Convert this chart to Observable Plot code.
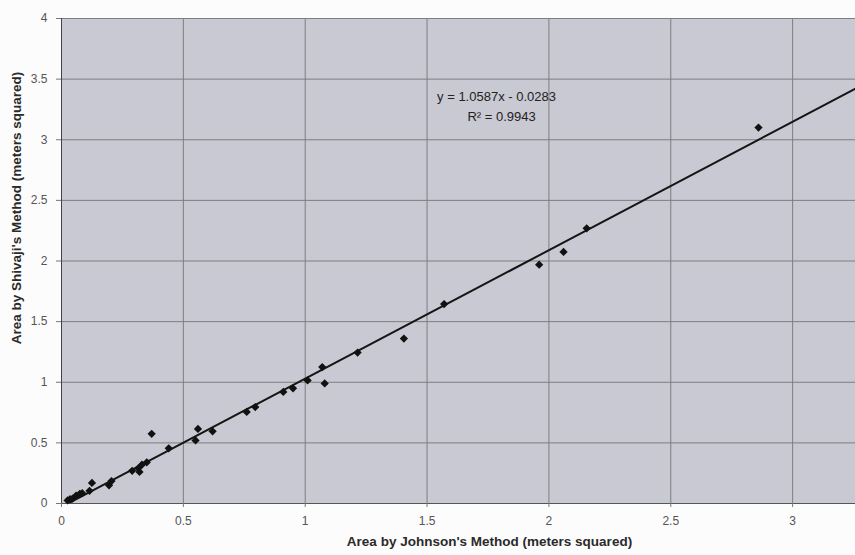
<!DOCTYPE html>
<html>
<head>
<meta charset="utf-8">
<script src="https://cdn.jsdelivr.net/npm/d3@7"></script>
<script src="https://cdn.jsdelivr.net/npm/@observablehq/plot@0.6"></script>
<style>
  html, body { margin: 0; padding: 0; background: #fcfcfd; }
  #chart svg { display: block; }
</style>
</head>
<body>
<div id="chart"></div>
<script>
// Area by Johnson's Method (x) vs Area by Shivaji's Method (y), meters squared
const johnson = [0.025, 0.035, 0.045, 0.06, 0.075, 0.085, 0.115, 0.125, 0.195, 0.205,
  0.29, 0.315, 0.32, 0.33, 0.35, 0.37, 0.44, 0.55, 0.56, 0.62,
  0.76, 0.795, 0.91, 0.95, 1.01, 1.07, 1.08, 1.215, 1.405, 1.57,
  1.96, 2.06, 2.155, 2.86];
const shivaji = [0.025, 0.035, 0.04, 0.065, 0.08, 0.085, 0.105, 0.17, 0.15, 0.185,
  0.27, 0.29, 0.26, 0.32, 0.34, 0.575, 0.455, 0.52, 0.615, 0.595,
  0.755, 0.795, 0.92, 0.95, 1.015, 1.125, 0.99, 1.245, 1.36, 1.645,
  1.97, 2.075, 2.27, 3.1];

// Linear trendline as given on the chart
const slope = 1.0587;
const intercept = -0.0283;
const rSquared = 0.9943;

const xTicks = [0, 0.5, 1, 1.5, 2, 2.5, 3];
const yTicks = [0, 0.5, 1, 1.5, 2, 2.5, 3, 3.5, 4];
const xDomain = [0, 3.258];
const yDomain = [0, 4];

const xLabel = "Area by Johnson's Method (meters squared)";
const yLabel = "Area by Shivaji's Method (meters squared)";
const equationText = `y = ${slope}x - ${Math.abs(intercept)}`;
const r2Text = `R² = ${rSquared}`;
const equationPos = {x: 1.785, y: 3.35};

const points = johnson.map((x, i) => ({x, y: shivaji[i]}));
const trend = xDomain.map(x => ({x, y: slope * x + intercept}));

const chart = Plot.plot({
  width: 855,
  height: 555,
  marginLeft: 61,
  marginRight: 0,
  marginTop: 18,
  marginBottom: 52,
  style: {fontFamily: "'Liberation Sans', Arial, sans-serif", fontSize: "12px", background: "transparent", color: "#333"},
  x: {domain: xDomain, label: null},
  y: {domain: yDomain, label: null},
  marks: [
    Plot.frame({fill: "#c9c9d3", stroke: null}),
    Plot.gridX(xTicks, {stroke: "#7a7f80", strokeOpacity: 1, strokeWidth: 1}),
    Plot.gridY(yTicks, {stroke: "#7a7f80", strokeOpacity: 1, strokeWidth: 1}),
    Plot.ruleX([0], {stroke: "#3f4444"}),
    Plot.ruleY([0], {stroke: "#555"}),
    Plot.axisX(xTicks, {tickSize: 4, tickPadding: 9, stroke: "#777", fill: "#555", label: null, tickFormat: d => String(d)}),
    Plot.axisY(yTicks, {tickSize: 5, tickPadding: 9, stroke: "#777", fill: "#555", label: null, tickFormat: d => String(d)}),
    Plot.line(trend, {x: "x", y: "y", stroke: "#151515", strokeWidth: 2, clip: true}),
    Plot.dot(points, {x: "x", y: "y", symbol: "square", rotate: 45, r: 3.3, fill: "#111", stroke: null}),
    Plot.text([equationText], {x: () => equationPos.x, y: () => equationPos.y, text: d => d, fontSize: 13, fill: "#222"}),
    Plot.text([r2Text], {x: () => equationPos.x, y: () => equationPos.y, text: d => d, dy: 20, dx: 5, fontSize: 13, fill: "#222"}),
    Plot.text([xLabel], {frameAnchor: "bottom", text: d => d, dy: 42, dx: 31, fontSize: 13.5, fontWeight: 600, fill: "#2a2a2a"}),
    Plot.text([yLabel], {frameAnchor: "left", textAnchor: "middle", text: d => d, rotate: -90, dx: -45, dy: -53, fontSize: 13.5, fontWeight: 600, fill: "#2a2a2a"})
  ]
});

document.getElementById("chart").appendChild(chart);
</script>
</body>
</html>
